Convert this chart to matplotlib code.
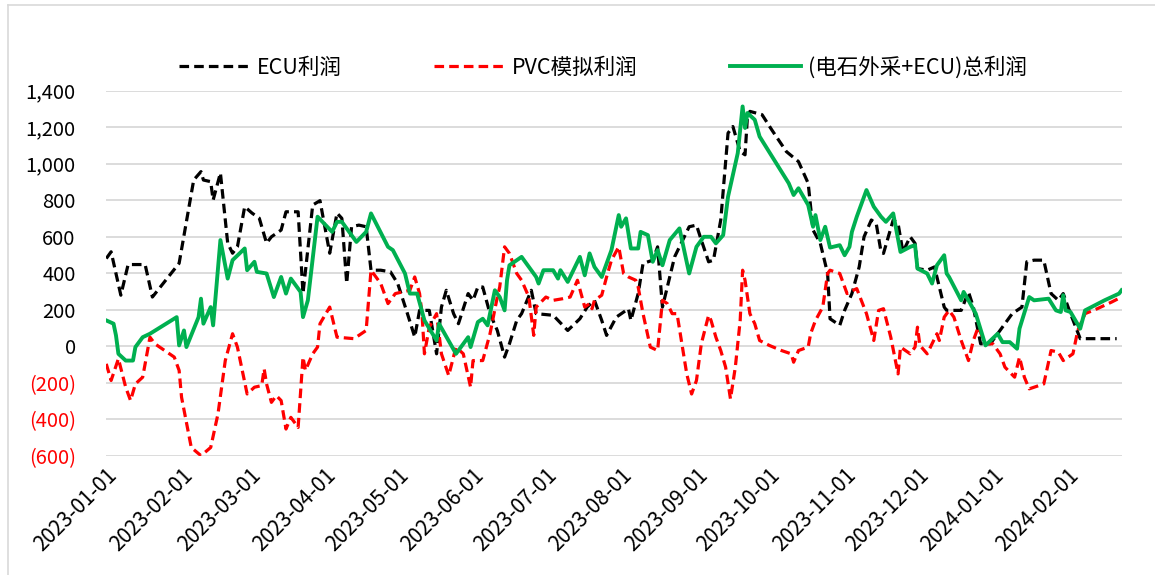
import numpy as np
import pandas as pd
import matplotlib
matplotlib.use("Agg")
import matplotlib.pyplot as plt
import matplotlib.dates as mdates
from matplotlib.lines import Line2D

############################################
# DATA (day offsets from 2023-01-01, values in yuan/t)
############################################

START = "2023-01-01"

ecu_days = [0, 2, 6, 9, 16, 19, 30, 36, 39, 40, 43, 44, 47, 50, 52, 54, 57, 60, 63, 66,
            68, 72, 74, 79, 81, 85, 88, 90, 92, 95, 97, 99, 101, 104, 107, 109, 113, 117, 120, 124,
            127, 129, 133, 136, 138, 140, 143, 145, 149, 151, 153, 155, 158, 161, 164, 166, 169, 171, 175, 177,
            184, 190, 195, 198, 201, 204, 206, 210, 215, 216, 219, 221, 225, 227, 229, 231, 234, 236, 240, 243,
            245, 248, 250, 253, 256, 258, 261, 263, 264, 265, 270, 274, 280, 285, 289, 291, 294, 297, 298, 302,
            304, 307, 310, 312, 315, 317, 319, 320, 322, 324, 326, 328, 331, 333, 334, 338, 341, 345, 346, 352,
            355, 357, 360, 364, 368, 373, 377, 379, 382, 386, 389, 392, 394, 397, 401, 416]
ecu_vals = [480, 517, 279, 447, 447, 269, 454, 910, 956, 910, 901, 800, 949, 564, 509, 544, 764, 729, 701, 564,
            599, 636, 736, 736, 289, 773, 797, 654, 509, 729, 700, 344, 654, 663, 654, 416, 416, 407, 343, 178,
            50, 196, 196, -42, 214, 306, 178, 123, 288, 251, 324, 324, 178, 86, -60, 13, 141, 178, 306, 178,
            169, 86, 150, 214, 251, 141, 59, 159, 205, 141, 288, 453, 471, 544, 214, 324, 489, 544, 654, 663,
            581, 462, 471, 691, 1167, 1203, 1066, 1048, 1258, 1286, 1268, 1185, 1066, 1011, 892, 636, 563, 398, 150, 114,
            196, 288, 434, 599, 691, 672, 516, 508, 599, 691, 672, 516, 599, 563, 425, 416, 434, 214, 196, 196,
            297, 214, 13, 13, 86, 178, 214, 462, 471, 471, 288, 251, 288, 178, 41, 41]

pvc_days = [0, 2, 5, 8, 10, 12, 15, 18, 20, 28, 30, 31, 35, 39, 43, 46, 49, 52, 54, 58,
            61, 64, 65, 66, 68, 70, 72, 74, 76, 79, 81, 82, 85, 87, 88, 92, 94, 95, 102, 107,
            109, 113, 116, 119, 125, 127, 129, 130, 131, 133, 136, 138, 141, 144, 147, 150, 151, 155, 158, 161,
            162, 164, 166, 169, 171, 174, 176, 177, 181, 184, 188, 191, 194, 197, 199, 200, 201, 204, 206, 208,
            211, 213, 215, 218, 219, 221, 224, 227, 229, 231, 233, 235, 237, 239, 241, 243, 245, 248, 249, 251,
            253, 255, 257, 259, 261, 262, 263, 265, 267, 269, 273, 278, 282, 283, 285, 289, 290, 292, 295, 297,
            298, 302, 305, 306, 309, 313, 316, 318, 320, 323, 326, 327, 331, 333, 334, 335, 338, 342, 343, 345,
            347, 349, 352, 355, 357, 359, 362, 365, 368, 370, 374, 376, 378, 380, 382, 386, 389, 392, 394, 398,
            400, 403, 408, 414, 418]
pvc_vals = [-97, -188, -69, -225, -298, -207, -170, 49, 13, -60, -133, -280, -555, -600, -555, -371, -79, 68, -5, -262,
            -225, -216, -124, -207, -308, -271, -298, -454, -390, -445, -60, -133, -42, -5, 123, 214, 104, 49, 41, 86,
            416, 343, 233, 288, 306, 379, 288, 178, -42, 104, 178, -42, -161, -5, -42, -225, -79, -79, 68, 269,
            324, 544, 508, 398, 361, 269, 59, 214, 269, 251, 260, 269, 361, 214, 233, 205, 251, 279, 379, 471,
            544, 398, 379, 361, 324, 178, -5, -24, 251, 233, 178, 178, 13, -152, -262, -188, 13, 169, 141, 49,
            -24, -115, -289, -115, 141, 416, 361, 178, 123, 31, 4, -24, -42, -88, -24, -5, 68, 141, 214, 398,
            416, 398, 288, 297, 315, 178, 31, 196, 205, 49, -152, -5, -42, -5, 104, 4, -42, 68, 31, 159,
            196, 159, 31, -79, 31, 104, 13, 13, -42, -115, -170, -60, -170, -234, -225, -207, -24, -33, -79, -42,
            86, 178, 205, 242, 269]

total_days = [0, 3, 4, 5, 8, 11, 12, 15, 18, 29, 30, 32, 33, 38, 39, 40, 43, 44, 47, 50,
              52, 57, 58, 61, 62, 66, 69, 72, 74, 76, 80, 81, 83, 87, 93, 95, 97, 103, 107, 109,
              116, 118, 123, 125, 128, 131, 136, 137, 144, 149, 150, 153, 155, 157, 160, 162, 164, 165, 166, 171,
              177, 178, 180, 184, 186, 187, 190, 195, 197, 199, 201, 204, 208, 211, 212, 214, 216, 219, 220, 223,
              225, 227, 229, 232, 236, 240, 243, 246, 249, 251, 254, 256, 260, 262, 263, 264, 267, 269, 275, 281,
              283, 285, 289, 291, 292, 294, 296, 298, 302, 304, 306, 307, 309, 313, 316, 319, 321, 324, 327, 331,
              333, 334, 338, 340, 342, 345, 346, 347, 352, 353, 355, 358, 362, 367, 369, 372, 375, 376, 380, 382,
              388, 391, 393, 394, 395, 397, 401, 403, 411, 417, 418]
total_vals = [141, 123, 59, -42, -79, -79, -5, 49, 68, 159, 4, 86, -5, 159, 260, 123, 214, 114, 581, 370,
              471, 535, 416, 462, 407, 398, 269, 379, 288, 370, 297, 159, 251, 709, 626, 681, 681, 571, 626, 727,
              544, 526, 398, 288, 288, 141, 31, 123, -42, 49, -5, 132, 150, 114, 306, 269, 196, 361, 443, 489,
              379, 343, 416, 416, 370, 416, 352, 489, 388, 508, 434, 379, 526, 718, 654, 700, 535, 535, 626, 608,
              462, 526, 443, 581, 645, 398, 544, 599, 599, 563, 608, 819, 1057, 1313, 1195, 1277, 1240, 1148, 1020, 892,
              828, 865, 773, 654, 718, 581, 654, 540, 553, 498, 544, 626, 709, 855, 764, 709, 681, 727, 516, 544,
              553, 425, 398, 343, 443, 498, 398, 379, 251, 297, 251, 178, 4, 68, 22, 22, -14, 96, 269, 251,
              260, 196, 187, 279, 196, 187, 96, 196, 251, 288, 306]

LABELS = ["ECU利润", "PVC模拟利润", "(电石外采+ECU)总利润"]
Y_TICKS = [-600, -400, -200, 0, 200, 400, 600, 800, 1000, 1200, 1400]

############################################
# HELPERS
############################################

def to_dates(days):
    return pd.Timestamp(START) + pd.to_timedelta(days, unit="D")


def fmt_y(v):
    if v < 0:
        return f"({abs(v):,})"
    return f"{v:,}"

############################################
# PLOT
############################################

plt.rcParams['font.family'] = ['Noto Sans CJK SC', 'DejaVu Sans']

fig = plt.figure(figsize=(11.55, 5.75), dpi=100)
ax = fig.add_axes([0.092, 0.2075, 0.879, 0.635])

ax.plot(to_dates(ecu_days), ecu_vals, color="black", lw=2.3,
        linestyle=(0, (3, 1.6)), label=LABELS[0], zorder=3)
ax.plot(to_dates(pvc_days), pvc_vals, color="#ff0000", lw=2.3,
        linestyle=(0, (3, 1.6)), label=LABELS[1], zorder=3)
ax.plot(to_dates(total_days), total_vals, color="#00b050", lw=2.8,
        label=LABELS[2], zorder=4)

ax.set_ylim(-600, 1400)
ax.set_yticks(Y_TICKS)
ax.set_yticklabels([fmt_y(v) for v in Y_TICKS], fontsize=14.5)
for lbl, v in zip(ax.get_yticklabels(), Y_TICKS):
    if v < 0:
        lbl.set_color("#ff0000")

ax.set_xlim(pd.Timestamp(START), to_dates([418])[0])
ax.xaxis.set_major_locator(mdates.MonthLocator())
ax.xaxis.set_major_formatter(mdates.DateFormatter("%Y-%m-%d"))
plt.setp(ax.get_xticklabels(), rotation=45, ha="right",
         rotation_mode="anchor", fontsize=15)

ax.grid(axis="y", color="#d9d9d9", lw=1.3)
ax.set_axisbelow(True)
ax.tick_params(axis="x", length=0, pad=6)
ax.tick_params(axis="y", length=0, pad=22)
for s in ax.spines.values():
    s.set_visible(False)

leg = fig.legend(loc="center", bbox_to_anchor=(0.522, 0.883), ncol=3,
                 frameon=False, fontsize=15.5, handlelength=3.3,
                 columnspacing=4.3, handletextpad=0.3)

# light frame around the figure (left and top only)
for xs, ys in [([0.007, 0.007], [0.0, 0.991]),
               ([0.007, 1.0], [0.991, 0.991])]:
    fig.add_artist(Line2D(xs, ys, transform=fig.transFigure,
                          color="#d9d9d9", lw=1.2))

fig.savefig("out.png", dpi=100)
plt.close(fig)
